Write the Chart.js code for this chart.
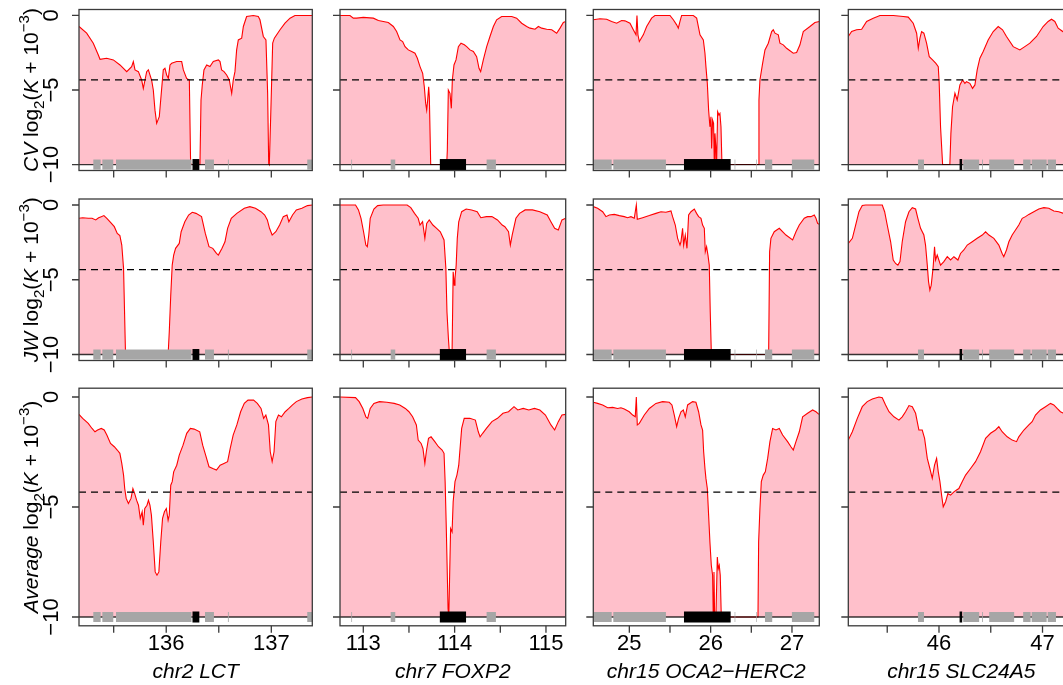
<!DOCTYPE html>
<html>
<head>
<meta charset="utf-8">
<script src="https://cdn.jsdelivr.net/npm/chart.js@4.4.1/dist/chart.umd.min.js"></script>
<style>
  html, body { margin: 0; padding: 0; background: #fff; overflow: hidden; }
  #wrap { position: relative; width: 1100px; height: 685px; }
  #wrap canvas { position: absolute; left: 0; top: 0; }
</style>
</head>
<body>
<div id="wrap"></div>
<script>
// ---- data ----
const rowNames = ["CV", "JW", "Average"];
const colTitles = ["chr2 LCT", "chr7 FOXP2", "chr15 OCA2\u2212HERC2", "chr15 SLC24A5"];

const lctRange = [135.17, 137.39];
const foxp2Range = [112.745, 115.216];
const oca2Range = [24.557, 27.336];
const slcRange = [45.124, 47.307];

const lctTicks = [136, 137];
const foxp2Ticks = [113, 114, 115];
const oca2Ticks = [25, 26, 27];
const slcTicks = [46, 47];

const yTicks = [0, -5, -10];
const threshold = -4.32;

// genes (Mb): other genes grey, focal gene black
const lctGenes = [[135.306, 135.376], [135.392, 135.496], [135.522, 136.24], [136.369, 136.454], [136.587, 136.595], [137.342, 137.39]];
const lctFocal = [136.25, 136.315];
const foxp2Genes = [[112.869, 112.877], [113.30, 113.35], [114.35, 114.452]];
const foxp2Focal = [113.838, 114.125];
const oca2Genes = [[24.566, 24.783], [24.803, 25.45], [26.295, 26.303], [26.562, 26.57], [26.668, 26.757], [26.999, 27.274]];
const oca2Focal = [25.672, 26.246];
const slcGenes = [[45.797, 45.855], [46.234, 46.388], [46.417, 46.425], [46.485, 46.726], [46.813, 46.885], [46.895, 47.04], [47.05, 47.13]];
const slcFocal = [46.199, 46.224];

const cvLCT = [[135.17,-0.74],[135.243,-1.19],[135.306,-1.86],[135.354,-2.65],[135.37,-2.94],[135.433,-2.87],[135.497,-2.98],[135.56,-3.32],[135.624,-3.77],[135.671,-3.43],[135.687,-3.09],[135.703,-3.65],[135.735,-3.77],[135.766,-4.33],[135.782,-4.89],[135.798,-4.33],[135.814,-3.77],[135.83,-3.65],[135.861,-4.33],[135.877,-5.0],[135.893,-6.35],[135.909,-7.24],[135.934,-6.79],[135.95,-5.45],[135.972,-3.65],[135.988,-3.54],[136.004,-3.99],[136.02,-4.22],[136.036,-3.32],[136.052,-3.21],[136.099,-3.09],[136.147,-3.09],[136.163,-3.65],[136.194,-4.22],[136.22,-4.33],[136.232,-9.93],[136.242,-10],[136.321,-10],[136.331,-5.67],[136.343,-4.66],[136.359,-3.65],[136.385,-3.32],[136.416,-3.43],[136.448,-3.09],[136.496,-2.98],[136.512,-3.09],[136.527,-3.65],[136.55,-3.77],[136.575,-3.99],[136.6,-4.33],[136.623,-5.22],[136.638,-4.33],[136.654,-3.77],[136.67,-2.31],[136.686,-1.64],[136.718,-1.52],[136.734,-0.74],[136.765,-0.07],[136.829,0],[136.876,-0.07],[136.892,-0.29],[136.924,-1.41],[136.949,-1.64],[136.965,-5.22],[136.975,-9.93],[136.981,-10],[136.994,-6.79],[137.013,-1.86],[137.029,-1.52],[137.083,-0.96],[137.13,-0.52],[137.178,-0.18],[137.225,0],[137.39,0]];

const cvFOXP2 = [[112.745,0],[112.854,0],[112.891,-0.18],[112.927,-0.18],[113.0,-0.13],[113.11,-0.18],[113.165,-0.34],[113.219,-0.4],[113.274,-0.47],[113.329,-0.74],[113.365,-1.08],[113.402,-1.64],[113.431,-1.75],[113.457,-2.09],[113.493,-2.31],[113.53,-2.42],[113.566,-2.53],[113.592,-2.87],[113.621,-3.43],[113.65,-3.88],[113.668,-4.78],[113.683,-5.9],[113.694,-6.35],[113.705,-5.67],[113.716,-4.78],[113.723,-5.45],[113.738,-10],[113.913,-10],[113.92,-9.04],[113.931,-5.0],[113.949,-5.22],[113.964,-6.23],[113.975,-4.33],[113.993,-3.32],[114.015,-2.98],[114.041,-2.09],[114.07,-1.86],[114.106,-1.97],[114.132,-2.09],[114.168,-2.31],[114.205,-2.42],[114.241,-2.76],[114.267,-3.54],[114.285,-3.77],[114.314,-2.98],[114.351,-2.09],[114.387,-1.41],[114.424,-0.74],[114.46,-0.29],[114.515,-0.07],[114.625,-0.07],[114.679,-0.18],[114.734,-0.52],[114.789,-0.74],[114.825,-0.85],[114.88,-0.92],[114.917,-0.74],[114.953,-0.85],[115.008,-0.92],[115.063,-0.96],[115.117,-1.19],[115.154,-0.85],[115.19,-0.47],[115.216,-0.4]];

const cvOCA2 = [[24.557,-0.29],[24.639,-0.22],[24.721,-0.25],[24.782,-0.4],[24.844,-0.52],[24.905,-0.34],[24.946,-0.36],[25.008,-0.52],[25.049,-0.96],[25.082,-1.3],[25.094,0],[25.106,-1.3],[25.123,-1.75],[25.172,-1.3],[25.213,-0.74],[25.274,-0.18],[25.315,0],[25.5,0],[25.541,-0.29],[25.582,-0.63],[25.602,-0.85],[25.623,-0.4],[25.643,0],[25.787,0],[25.828,-0.18],[25.869,-1.3],[25.91,-1.64],[25.93,-2.53],[25.942,-3.43],[25.959,-4.55],[25.975,-6.35],[25.991,-7.47],[26.004,-6.79],[26.012,-8.92],[26.024,-7.02],[26.036,-7.24],[26.045,-10],[26.053,-7.91],[26.065,-8.92],[26.073,-10],[26.086,-6.46],[26.102,-6.68],[26.114,-6.57],[26.127,-7.47],[26.139,-10],[26.586,-10],[26.594,-5.67],[26.606,-4.33],[26.639,-3.21],[26.668,-2.31],[26.709,-1.86],[26.75,-1.08],[26.77,-0.96],[26.791,-1.19],[26.832,-1.3],[26.852,-1.86],[26.893,-1.97],[26.934,-2.2],[27.016,-2.53],[27.057,-2.49],[27.098,-1.97],[27.139,-1.08],[27.221,-0.74],[27.282,-0.47],[27.336,-0.4]];

const cvSLC = [[45.124,-1.41],[45.156,-1.08],[45.204,-0.96],[45.253,-0.92],[45.301,-0.4],[45.365,-0.18],[45.43,0],[45.558,0],[45.655,-0.07],[45.703,-0.11],[45.751,-0.52],[45.784,-1.19],[45.8,-2.2],[45.816,-1.52],[45.832,-1.08],[45.854,-1.19],[45.88,-1.86],[45.906,-2.76],[45.938,-2.98],[45.97,-3.21],[45.993,-3.43],[46.002,-4.55],[46.015,-7.47],[46.035,-10],[46.105,-10],[46.115,-7.91],[46.131,-6.12],[46.154,-5.22],[46.176,-5.67],[46.202,-4.66],[46.228,-4.33],[46.25,-4.55],[46.266,-4.44],[46.298,-4.55],[46.324,-4.89],[46.347,-4.66],[46.369,-3.65],[46.395,-2.87],[46.427,-2.42],[46.475,-1.64],[46.524,-1.08],[46.572,-0.74],[46.614,-0.96],[46.652,-1.41],[46.717,-2.09],[46.781,-2.31],[46.829,-2.09],[46.878,-1.86],[46.942,-1.41],[47.006,-0.74],[47.054,-0.4],[47.087,-0.25],[47.119,-0.4],[47.151,-0.85],[47.196,-1.08],[47.31,-1.0]];

const jwLCT = [[135.17,-0.89],[135.205,-0.85],[135.258,-0.89],[135.294,-0.89],[135.329,-1.0],[135.357,-0.85],[135.382,-0.78],[135.407,-0.71],[135.435,-0.89],[135.47,-1.16],[135.506,-1.45],[135.534,-1.9],[135.559,-2.05],[135.577,-2.68],[135.594,-4.24],[135.612,-9.82],[135.619,-10],[136.018,-10],[136.029,-8.48],[136.043,-6.03],[136.057,-4.02],[136.071,-3.35],[136.089,-2.9],[136.124,-2.57],[136.142,-1.79],[136.177,-1.12],[136.213,-0.67],[136.248,-0.49],[136.283,-0.56],[136.336,-0.78],[136.372,-1.9],[136.407,-2.79],[136.443,-2.9],[136.478,-3.24],[136.496,-3.35],[136.531,-2.9],[136.559,-2.46],[136.584,-1.56],[136.619,-0.89],[136.672,-0.56],[136.743,-0.22],[136.796,-0.11],[136.849,-0.22],[136.902,-0.45],[136.937,-0.67],[136.962,-1.0],[136.983,-1.56],[137.008,-2.01],[137.043,-1.79],[137.079,-1.34],[137.114,-0.78],[137.149,-0.67],[137.167,-1.12],[137.202,-0.67],[137.238,-0.33],[137.291,-0.22],[137.344,-0.04],[137.39,0]];

const jwFOXP2 = [[112.745,0],[112.915,0],[112.947,-0.33],[112.975,-0.89],[113.003,-1.79],[113.028,-2.68],[113.044,-2.79],[113.06,-2.01],[113.076,-0.89],[113.116,-0.27],[113.157,-0.04],[113.217,0],[113.48,0],[113.52,-0.18],[113.561,-0.56],[113.601,-0.89],[113.621,-1.34],[113.649,-1.12],[113.674,-2.23],[113.694,-1.23],[113.722,-1.0],[113.762,-1.34],[113.803,-1.56],[113.843,-1.79],[113.884,-2.34],[113.904,-4.24],[113.916,-7.14],[113.932,-8.93],[113.944,-10],[113.964,-10],[113.972,-9.82],[113.984,-4.46],[113.996,-5.36],[114.004,-4.91],[114.017,-4.02],[114.029,-2.23],[114.045,-1.12],[114.077,-0.45],[114.126,-0.27],[114.186,-0.33],[114.247,-0.45],[114.287,-0.85],[114.348,-0.78],[114.408,-0.78],[114.469,-1.0],[114.521,-1.34],[114.55,-1.45],[114.59,-1.79],[114.61,-2.68],[114.63,-2.01],[114.671,-0.89],[114.711,-0.56],[114.772,-0.33],[114.852,-0.33],[114.933,-0.45],[115.014,-0.67],[115.054,-1.12],[115.095,-1.56],[115.135,-1.67],[115.175,-1.0],[115.216,-0.89]];

const jwOCA2 = [[24.557,-0.11],[24.61,-0.22],[24.672,-0.45],[24.713,-0.78],[24.754,-0.67],[24.815,-0.63],[24.877,-0.71],[24.938,-0.78],[24.979,-0.85],[25.02,-0.78],[25.061,-0.89],[25.086,0],[25.098,-0.96],[25.164,-0.85],[25.246,-0.71],[25.327,-0.56],[25.389,-0.45],[25.45,-0.49],[25.512,-0.4],[25.532,-0.78],[25.565,-1.34],[25.594,-2.23],[25.623,-2.68],[25.635,-2.46],[25.655,-1.56],[25.668,-2.68],[25.688,-2.01],[25.709,-2.9],[25.729,-0.67],[25.758,-0.45],[25.799,-0.27],[25.827,-0.56],[25.852,-0.78],[25.881,-0.89],[25.901,-1.34],[25.922,-1.56],[25.934,-3.13],[25.95,-2.79],[25.967,-3.35],[25.983,-4.02],[25.995,-7.14],[26.008,-9.82],[26.016,-10],[26.713,-10],[26.725,-3.13],[26.741,-2.23],[26.782,-1.79],[26.844,-1.56],[26.926,-2.01],[27.008,-2.34],[27.049,-1.79],[27.09,-1.34],[27.151,-0.89],[27.192,-0.78],[27.233,-0.78],[27.274,-0.67],[27.295,-0.89],[27.315,-1.23],[27.336,-1.29]];

const jwSLC = [[45.124,-2.57],[45.163,-2.23],[45.195,-1.34],[45.227,-0.45],[45.259,-0.04],[45.291,0],[45.452,0],[45.475,-0.45],[45.5,-1.34],[45.533,-2.46],[45.558,-3.68],[45.581,-3.91],[45.603,-4.02],[45.623,-3.79],[45.645,-2.46],[45.677,-1.12],[45.71,-0.45],[45.742,-0.18],[45.774,-0.27],[45.796,-0.89],[45.822,-1.56],[45.854,-2.01],[45.87,-2.68],[45.887,-4.02],[45.899,-5.13],[45.912,-5.69],[45.925,-5.36],[45.944,-4.13],[45.957,-2.79],[45.967,-3.68],[45.983,-3.35],[46.015,-4.02],[46.047,-3.79],[46.08,-3.46],[46.112,-3.68],[46.144,-3.46],[46.183,-3.68],[46.208,-3.24],[46.24,-3.01],[46.273,-2.68],[46.321,-2.46],[46.369,-2.23],[46.418,-2.01],[46.45,-1.79],[46.482,-2.01],[46.53,-2.23],[46.578,-2.68],[46.61,-3.24],[46.626,-3.46],[46.652,-3.01],[46.675,-2.46],[46.707,-2.01],[46.739,-1.67],[46.771,-1.34],[46.804,-0.89],[46.836,-0.78],[46.868,-0.63],[46.916,-0.45],[46.964,-0.27],[47.013,-0.18],[47.061,-0.22],[47.109,-0.4],[47.157,-0.45],[47.202,-0.56],[47.31,-0.6]];

const avgLCT = [[135.17,-0.79],[135.205,-0.97],[135.258,-1.2],[135.294,-1.43],[135.322,-1.58],[135.347,-1.5],[135.382,-1.43],[135.41,-1.5],[135.435,-1.73],[135.47,-2.11],[135.506,-2.26],[135.534,-2.41],[135.559,-2.56],[135.577,-3.02],[135.594,-3.55],[135.605,-4.16],[135.619,-4.61],[135.64,-4.84],[135.665,-4.61],[135.683,-4.16],[135.7,-4.39],[135.718,-4.69],[135.736,-4.92],[135.753,-5.52],[135.771,-5.22],[135.782,-5.83],[135.796,-5.07],[135.817,-4.92],[135.831,-4.69],[135.845,-4.92],[135.859,-5.37],[135.877,-6.59],[135.895,-7.95],[135.912,-8.1],[135.93,-7.95],[135.948,-6.59],[135.965,-5.52],[135.983,-5.22],[136.001,-5.07],[136.018,-5.6],[136.029,-5.37],[136.043,-4.01],[136.057,-3.85],[136.071,-3.4],[136.1,-3.1],[136.124,-2.64],[136.16,-2.19],[136.195,-1.65],[136.23,-1.43],[136.266,-1.46],[136.319,-1.58],[136.347,-2.19],[136.375,-2.64],[136.407,-3.17],[136.443,-3.25],[136.478,-3.32],[136.513,-3.1],[136.549,-3.02],[136.584,-2.94],[136.609,-2.34],[136.637,-1.73],[136.672,-1.27],[136.708,-0.67],[136.743,-0.29],[136.778,-0.14],[136.831,-0.14],[136.867,-0.29],[136.902,-0.52],[136.927,-0.97],[136.948,-0.82],[136.973,-1.27],[136.99,-2.49],[137.008,-2.94],[137.026,-2.49],[137.043,-1.12],[137.068,-0.82],[137.096,-0.9],[137.132,-0.67],[137.167,-0.52],[137.202,-0.36],[137.238,-0.21],[137.291,-0.09],[137.344,-0.03],[137.39,0]];

const avgFOXP2 = [[112.745,0],[112.915,-0.03],[112.955,-0.21],[112.995,-0.52],[113.028,-0.9],[113.048,-0.97],[113.076,-0.52],[113.116,-0.29],[113.177,-0.21],[113.258,-0.24],[113.338,-0.29],[113.399,-0.36],[113.46,-0.52],[113.5,-0.67],[113.54,-0.9],[113.581,-1.27],[113.601,-1.96],[113.633,-2.11],[113.653,-2.34],[113.674,-3.02],[113.69,-2.49],[113.714,-1.88],[113.742,-1.81],[113.783,-2.03],[113.823,-2.26],[113.863,-2.41],[113.884,-2.56],[113.896,-3.85],[113.908,-5.83],[113.92,-8.1],[113.928,-9.62],[113.936,-10],[113.944,-8.41],[113.956,-5.98],[113.972,-6.13],[113.984,-4.76],[114.004,-3.85],[114.025,-3.55],[114.045,-3.1],[114.077,-1.43],[114.105,-0.97],[114.166,-0.97],[114.227,-1.05],[114.259,-1.58],[114.279,-1.81],[114.307,-1.65],[114.348,-1.43],[114.408,-1.12],[114.469,-0.97],[114.529,-0.74],[114.59,-0.67],[114.65,-0.44],[114.691,-0.59],[114.751,-0.52],[114.812,-0.59],[114.873,-0.52],[114.933,-0.59],[114.994,-0.82],[115.054,-1.27],[115.095,-1.5],[115.135,-1.12],[115.175,-0.82],[115.216,-0.79]];

const avgOCA2 = [[24.557,-0.24],[24.61,-0.29],[24.672,-0.36],[24.733,-0.49],[24.795,-0.47],[24.856,-0.52],[24.897,-0.49],[24.938,-0.55],[24.999,-0.67],[25.041,-0.82],[25.073,-0.9],[25.086,0],[25.098,-1.27],[25.123,-1.2],[25.184,-0.82],[25.246,-0.52],[25.327,-0.29],[25.409,-0.21],[25.491,-0.24],[25.524,-0.36],[25.553,-0.82],[25.582,-1.35],[25.606,-0.97],[25.635,-0.67],[25.664,-0.59],[25.688,-0.9],[25.717,-0.36],[25.778,-0.21],[25.819,-0.24],[25.852,-0.67],[25.881,-1.27],[25.901,-1.5],[25.914,-2.49],[25.93,-3.25],[25.942,-3.7],[25.959,-4.16],[25.975,-5.37],[25.991,-6.59],[26.008,-7.65],[26.024,-8.1],[26.032,-10],[26.041,-7.95],[26.049,-10],[26.065,-10],[26.082,-7.27],[26.094,-7.8],[26.106,-7.65],[26.118,-8.1],[26.131,-10],[26.582,-10],[26.59,-6.59],[26.606,-5.07],[26.623,-3.85],[26.647,-3.55],[26.672,-3.4],[26.701,-2.79],[26.729,-2.03],[26.762,-1.43],[26.803,-1.5],[26.844,-1.43],[26.885,-1.73],[26.946,-2.03],[26.987,-2.26],[27.016,-2.41],[27.049,-2.03],[27.09,-1.58],[27.131,-0.9],[27.192,-0.74],[27.254,-0.59],[27.295,-0.67],[27.332,-0.79]];

const avgSLC = [[45.124,-1.96],[45.163,-1.58],[45.211,-0.97],[45.259,-0.44],[45.307,-0.21],[45.356,-0.09],[45.42,0],[45.452,-0.03],[45.484,-0.36],[45.517,-0.67],[45.565,-0.9],[45.613,-1.05],[45.645,-0.9],[45.677,-0.67],[45.71,-0.39],[45.742,-0.44],[45.774,-0.74],[45.806,-1.5],[45.838,-1.5],[45.861,-1.88],[45.887,-2.79],[45.912,-3.25],[45.935,-3.7],[45.957,-3.1],[45.977,-2.79],[45.993,-3.4],[46.009,-3.85],[46.025,-4.46],[46.041,-4.99],[46.064,-4.76],[46.086,-4.39],[46.112,-4.46],[46.144,-4.31],[46.17,-4.23],[46.192,-4.16],[46.224,-3.85],[46.257,-3.55],[46.305,-3.25],[46.353,-2.94],[46.401,-2.49],[46.45,-1.88],[46.498,-1.65],[46.546,-1.5],[46.578,-1.35],[46.61,-1.58],[46.659,-1.81],[46.707,-1.96],[46.749,-2.03],[46.771,-1.81],[46.82,-1.5],[46.868,-1.27],[46.9,-1.12],[46.932,-0.82],[46.98,-0.59],[47.029,-0.44],[47.077,-0.29],[47.109,-0.36],[47.141,-0.52],[47.173,-0.67],[47.202,-0.74],[47.31,-0.8]];

// ---- layout ----
const FONT = '"Liberation Sans", Arial, Helvetica, sans-serif';
const W = 1100, H = 685;
const colBox = [[79, 312.3], [340, 565.7], [593.3, 819.3], [848.3, 1074.3]];
const rowBox = [[9.5, 170.5], [199, 360.5], [388.2, 625.8]];

const xRanges = [lctRange, foxp2Range, oca2Range, slcRange];
const xTickLabels = [lctTicks, foxp2Ticks, oca2Ticks, slcTicks];
const geneSets = [lctGenes, foxp2Genes, oca2Genes, slcGenes];
const focalGenes = [lctFocal, foxp2Focal, oca2Focal, slcFocal];
const series = [
  [cvLCT, cvFOXP2, cvOCA2, cvSLC],
  [jwLCT, jwFOXP2, jwOCA2, jwSLC],
  [avgLCT, avgFOXP2, avgOCA2, avgSLC],
];

const fmt = (v) => (v < 0 ? "\u2212" + Math.abs(v) : String(v));

function drawYTitle(ctx, name, cx, cy) {
  const s = 21;
  const parts = [
    [name, "italic ", s, 0],
    [" log", "", s, 0],
    ["2", "", s * 0.72, s * 0.3],
    ["(", "", s, 0],
    ["K", "italic ", s, 0],
    [" + 10", "", s, 0],
    ["\u22123", "", s * 0.72, -s * 0.42],
    [")", "", s, 0],
  ];
  ctx.save();
  ctx.translate(cx, cy);
  ctx.rotate(-Math.PI / 2);
  ctx.textBaseline = "alphabetic";
  ctx.textAlign = "left";
  let total = 0;
  const widths = parts.map(([t, st, sz]) => {
    ctx.font = `${st}${sz}px ${FONT}`;
    const w = ctx.measureText(t).width;
    total += w;
    return w;
  });
  let x = -total / 2;
  parts.forEach(([t, st, sz, dy], i) => {
    ctx.font = `${st}${sz}px ${FONT}`;
    ctx.fillText(t, x, dy);
    x += widths[i];
  });
  ctx.restore();
}

function makeDecor(row, col) {
  return {
    id: "decor",
    afterDatasetsDraw(chart) {
      const { ctx, chartArea: a, scales: { x, y } } = chart;
      const y10 = y.getPixelForValue(-10);
      ctx.save();
      ctx.beginPath();
      ctx.rect(a.left, a.top, a.right - a.left, a.bottom - a.top);
      ctx.clip();
      ctx.fillStyle = "#a6a6a6";
      geneSets[col].forEach(([s, e]) => {
        const x0 = x.getPixelForValue(s);
        const x1 = x.getPixelForValue(e);
        ctx.fillRect(x0, y10 - 5, x1 - x0, 10);
      });
      const [fs, fe] = focalGenes[col];
      const f0 = x.getPixelForValue(fs);
      const f1 = x.getPixelForValue(fe);
      ctx.fillStyle = "#000";
      ctx.fillRect(f0, y10 - 5.5, Math.max(f1 - f0, 2.5), 11);
      ctx.restore();
    },
    afterDraw(chart) {
      const { ctx, chartArea: a, scales: { x, y } } = chart;
      ctx.save();
      ctx.strokeStyle = "#3a3a3a";
      ctx.lineWidth = 1.3;
      ctx.strokeRect(a.left, a.top, a.right - a.left, a.bottom - a.top);

      // ticks
      ctx.beginPath();
      yTicks.forEach((v) => {
        const py = y.getPixelForValue(v);
        ctx.moveTo(a.left - 7, py);
        ctx.lineTo(a.left, py);
      });
      const [mn, mx] = xRanges[col];
      for (let v = Math.ceil(mn * 2) / 2; v <= mx; v += 0.5) {
        const px = x.getPixelForValue(v);
        ctx.moveTo(px, a.bottom);
        ctx.lineTo(px, a.bottom + 7);
      }
      ctx.stroke();

      ctx.fillStyle = "#000";
      if (col === 0) {
        ctx.font = `22px ${FONT}`;
        ctx.textAlign = "center";
        ctx.textBaseline = "alphabetic";
        yTicks.forEach((v) => {
          const py = y.getPixelForValue(v);
          ctx.save();
          ctx.translate(a.left - 21, py);
          ctx.rotate(-Math.PI / 2);
          ctx.fillText(fmt(v), 0, 0);
          ctx.restore();
        });
        drawYTitle(ctx, rowNames[row], 37.5, (y.getPixelForValue(0) + y.getPixelForValue(-10)) / 2);
      }
      if (row === 2) {
        ctx.font = `22px ${FONT}`;
        ctx.textAlign = "center";
        ctx.textBaseline = "alphabetic";
        xTickLabels[col].forEach((v) => {
          ctx.fillText(String(v), x.getPixelForValue(v), a.bottom + 24.5);
        });
        ctx.font = `italic 21px ${FONT}`;
        ctx.fillText(colTitles[col], (a.left + a.right) / 2, 678);
      }
      ctx.restore();
    },
  };
}

const wrap = document.getElementById("wrap");
for (let r = 0; r < 3; r++) {
  for (let c = 0; c < 4; c++) {
    const canvas = document.createElement("canvas");
    canvas.width = W;
    canvas.height = H;
    canvas.style.width = W + "px";
    canvas.style.height = H + "px";
    wrap.appendChild(canvas);

    const [xmin, xmax] = xRanges[c];
    const [left, right] = colBox[c];
    const [top, bottom] = rowBox[r];

    new Chart(canvas.getContext("2d"), {
      type: "line",
      data: {
        datasets: [
          {
            data: series[r][c].map(([px, py]) => ({ x: px, y: py })),
            borderColor: "#ff0000",
            borderWidth: 1.1,
            backgroundColor: "#ffc0cb",
            fill: { value: -10 },
            pointRadius: 0,
            tension: 0,
            order: 2,
          },
          {
            data: [{ x: xmin, y: -10 }, { x: xmax, y: -10 }],
            borderColor: "rgba(0,0,0,0.78)",
            borderWidth: 1.3,
            pointRadius: 0,
            fill: false,
            order: 1,
          },
          {
            data: [{ x: xmin, y: threshold }, { x: xmax, y: threshold }],
            borderColor: "#000",
            borderWidth: 1.2,
            borderDash: [7, 5],
            pointRadius: 0,
            fill: false,
            order: 0,
          },
        ],
      },
      options: {
        responsive: false,
        devicePixelRatio: 1,
        animation: false,
        events: [],
        layout: { padding: { left: left, right: W - right, top: top, bottom: H - bottom } },
        scales: {
          x: { type: "linear", min: xmin, max: xmax, display: false },
          y: { type: "linear", min: -10.4, max: 0.4, display: false },
        },
        plugins: {
          legend: { display: false },
          tooltip: { enabled: false },
          filler: { drawTime: "beforeDatasetsDraw" },
        },
      },
      plugins: [makeDecor(r, c)],
    });
  }
}
</script>
</body>
</html>
